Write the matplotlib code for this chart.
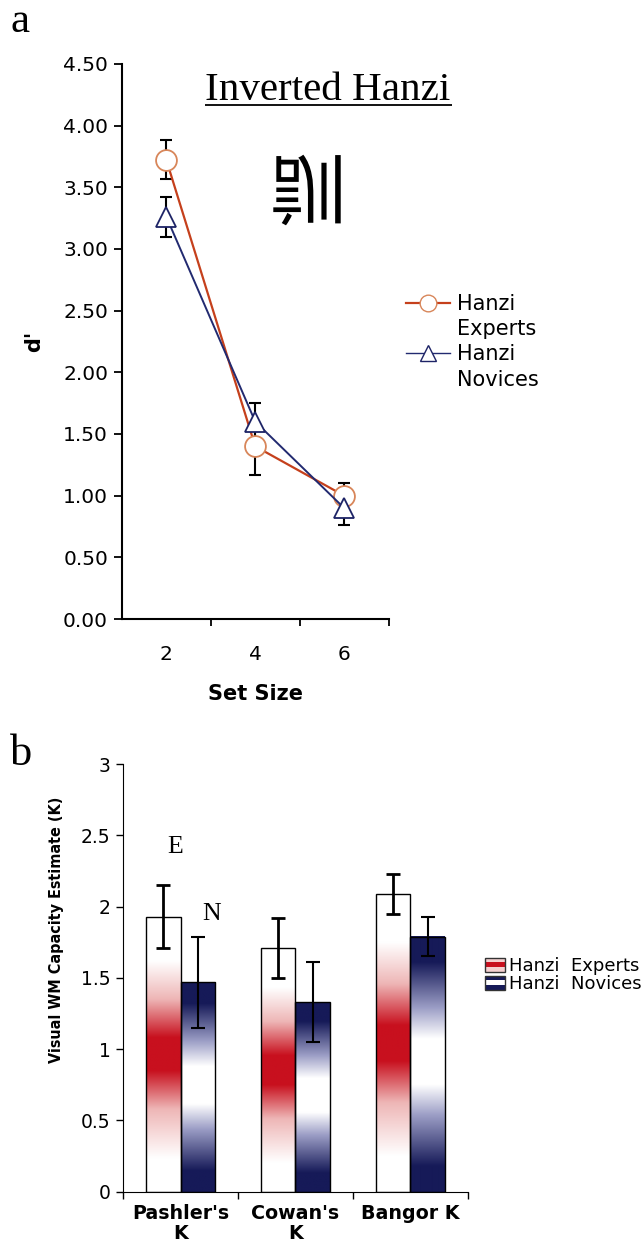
import numpy as np
import matplotlib
matplotlib.use("Agg")
import matplotlib.pyplot as plt
from matplotlib.colors import LinearSegmentedColormap
from matplotlib.patches import Rectangle, PathPatch
from matplotlib.lines import Line2D
from matplotlib.textpath import TextPath
from matplotlib.font_manager import FontProperties
from matplotlib.transforms import Affine2D, IdentityTransform
from matplotlib.legend_handler import HandlerBase

plt.rcParams['font.family'] = ['DejaVu Sans']

# panel a data
set_sizes = ['2', '4', '6']
experts_d = [3.72, 1.40, 1.00]
experts_lo = [0.15, 0.23, 0.00]
experts_hi = [0.16, 0.14, 0.10]
novices_d = [3.26, 1.60, 0.90]
novices_lo = [0.16, 0.14, 0.14]
novices_hi = [0.16, 0.15, 0.14]

# panel b data
k_labels = ["Pashler's\nK", "Cowan's\nK", "Bangor K"]
experts_k = [1.93, 1.71, 2.09]
experts_k_err = [0.22, 0.21, 0.14]
novices_k = [1.47, 1.33, 1.79]
novices_k_err = [0.32, 0.28, 0.14]

red = '#c8101e'
navy = '#161a58'
red_cm = LinearSegmentedColormap.from_list('r', [(0, 'white'), (0.12, 'white'), (0.3, '#eeb6b6'),
                                                 (0.44, red), (0.56, red), (0.7, '#eeb6b6'),
                                                 (0.84, 'white'), (1, 'white')])
blue_cm = LinearSegmentedColormap.from_list('b', [(0, navy), (0.1, navy), (0.3, '#9c9ec6'),
                                                  (0.42, 'white'), (0.6, 'white'), (0.72, '#9c9ec6'),
                                                  (0.9, navy), (1, navy)])

fig = plt.figure(figsize=(6.43, 12.49), dpi=100)

# ---------- panel a ----------
ax1 = fig.add_axes([0.1897, 0.5044, 0.4145, 0.4444])
x = np.arange(1, len(set_sizes) + 1)
ax1.errorbar(x, experts_d, yerr=[experts_lo, experts_hi], fmt='none', ecolor='black',
             elinewidth=1.5, capsize=4, capthick=1.5, zorder=2)
ax1.errorbar(x, novices_d, yerr=[novices_lo, novices_hi], fmt='none', ecolor='black',
             elinewidth=1.5, capsize=4, capthick=1.5, zorder=2)
ax1.plot(x, experts_d, color='#c5401c', lw=1.6, marker='o', ms=15, mfc='white',
         mec='#d8865a', mew=1.3, zorder=3)
ax1.plot(x, novices_d, color='#222a70', lw=1.4, marker='^', ms=14, mfc='white',
         mec='#1d2366', mew=1.3, zorder=4)
ax1.set_xlim(0.5, 3.5)
ax1.set_ylim(0, 4.5)
ax1.set_yticks(np.arange(0, 4.51, 0.5))
ax1.set_yticklabels(['%.2f' % v for v in np.arange(0, 4.51, 0.5)], fontsize=14.5)
ax1.set_xticks(x)
ax1.set_xticklabels(set_sizes, fontsize=14.5)
ax1.set_xticks([1.5, 2.5, 3.5], minor=True)
ax1.tick_params(axis='x', which='major', length=0, pad=19)
ax1.tick_params(axis='x', which='minor', length=5, width=1.3, direction='out')
ax1.tick_params(axis='y', length=6, width=1.3, direction='out', pad=4)
for s in ['top', 'right']:
    ax1.spines[s].set_visible(False)
for s in ['left', 'bottom']:
    ax1.spines[s].set_linewidth(1.5)
ax1.set_xlabel('Set Size', fontsize=15, fontweight='bold', labelpad=14)
ax1.set_ylabel("d'", fontsize=15, fontweight='bold', labelpad=14)
ax1.text(2.82, 4.21, 'Inverted Hanzi', family='Liberation Serif', fontsize=29.5,
         ha='center', va='baseline')
ax1.plot([1.44, 4.21], [4.17, 4.17], color='black', lw=1.3, clip_on=False,
         solid_capstyle='butt')

# inverted character
tp = TextPath((0, 0), '訓', size=80, prop=FontProperties(family='Noto Sans CJK SC'))
bb = tp.get_extents()
cx, cy = (bb.x0 + bb.x1) / 2, (bb.y0 + bb.y1) / 2
tr = Affine2D().translate(-cx, -cy).scale(0.95, -0.95).translate(307, 1249 - 190)
fig.add_artist(PathPatch(tp, transform=tr + IdentityTransform(), color='black', lw=0))

h_e = Line2D([], [], color='#c5401c', lw=1.6, marker='o', ms=12, mfc='white', mec='#d8865a')
h_n = Line2D([], [], color='#222a70', lw=1.0, marker='^', ms=12, mfc='white', mec='#1d2366')
blank = Line2D([], [], color='none')
fig.legend([h_e, blank, h_n, blank], ['Hanzi', 'Experts', 'Hanzi', 'Novices'],
           loc='upper left', bbox_to_anchor=(406 / 643, 1 - 294 / 1249), frameon=False,
           fontsize=15, labelspacing=0.25, handlelength=2.1, handletextpad=0.35,
           borderpad=0, borderaxespad=0)

fig.text(10 / 643, 1 - 32 / 1249, 'a', family='Liberation Serif', fontsize=31)
fig.text(10 / 643, 1 - 765 / 1249, 'b', family='Liberation Serif', fontsize=32)

# ---------- panel b ----------
ax2 = fig.add_axes([0.1913, 0.0459, 0.5365, 0.3424])
w = 0.3
grad = np.linspace(0, 1, 256).reshape(-1, 1)
for i in range(len(k_labels)):
    xc = i + 1
    for x0, h, cm in [(xc - w, experts_k[i], red_cm), (xc, novices_k[i], blue_cm)]:
        ax2.imshow(grad, cmap=cm, origin='lower', aspect='auto', interpolation='bilinear',
                   extent=[x0, x0 + w, 0, h], zorder=1)
        ax2.add_patch(Rectangle((x0, 0), w, h, fill=False, ec='black', lw=1.0, zorder=2))
ax2.errorbar(np.arange(1, 4) - w / 2, experts_k, yerr=experts_k_err, fmt='none', ecolor='black',
             elinewidth=2, capsize=5, capthick=2, zorder=3)
ax2.errorbar(np.arange(1, 4) + w / 2, novices_k, yerr=novices_k_err, fmt='none', ecolor='black',
             elinewidth=1.5, capsize=5, capthick=1.5, zorder=3)
ax2.text(1 - w / 2 + 0.1, 2.42, 'E', family='Liberation Serif', fontsize=18.5, ha='center', va='center')
ax2.text(1 + w / 2 + 0.12, 1.95, 'N', family='Liberation Serif', fontsize=18.5, ha='center', va='center')
ax2.set_xlim(0.5, 3.5)
ax2.set_ylim(0, 3)
ax2.set_yticks([0, 0.5, 1, 1.5, 2, 2.5, 3])
ax2.set_yticklabels(['0', '0.5', '1', '1.5', '2', '2.5', '3'], fontsize=13.5)
ax2.set_xticks([1, 2, 3])
ax2.set_xticklabels(k_labels, fontsize=13.7, fontweight='bold', linespacing=1.05)
ax2.set_xticks([0.5, 1.5, 2.5, 3.5], minor=True)
ax2.tick_params(axis='x', which='major', length=0, pad=9)
ax2.tick_params(axis='x', which='minor', length=5, width=1.0, direction='out')
ax2.tick_params(axis='y', length=5, width=1.0, direction='out', pad=4)
for s in ['top', 'right']:
    ax2.spines[s].set_visible(False)
ax2.set_ylabel('Visual WM Capacity Estimate (K)', fontsize=11.5, fontweight='bold',
               fontstretch='condensed')
ax2.yaxis.set_label_coords(-0.17, 0.612)


class GradHandler(HandlerBase):
    def __init__(self, cols):
        super().__init__()
        self.cols = cols

    def create_artists(self, legend, orig_handle, xd, yd, width, height, fontsize, trans):
        out = []
        n = len(self.cols)
        for j, c in enumerate(self.cols):
            out.append(Rectangle((-xd, -yd + height * j / n), width, height / n, fc=c, ec='none',
                                 transform=trans))
        out.append(Rectangle((-xd, -yd), width, height, fill=False, ec='#333333', lw=1.0,
                             transform=trans))
        return out


pe = Rectangle((0, 0), 1, 1)
pn = Rectangle((0, 0), 1, 1)
fig.legend([pe, pn], ['Hanzi  Experts', 'Hanzi  Novices'], loc='upper left',
           bbox_to_anchor=(485 / 643, 1 - 957 / 1249), frameon=False, fontsize=13,
           labelspacing=0.0, handlelength=1.1, handleheight=0.8, handletextpad=0.25,
           borderpad=0, borderaxespad=0,
           handler_map={pe: GradHandler(['#f4d0d0', red, '#f4d0d0']),
                        pn: GradHandler([navy, 'white', navy])})

fig.savefig('out.png', dpi=100)
